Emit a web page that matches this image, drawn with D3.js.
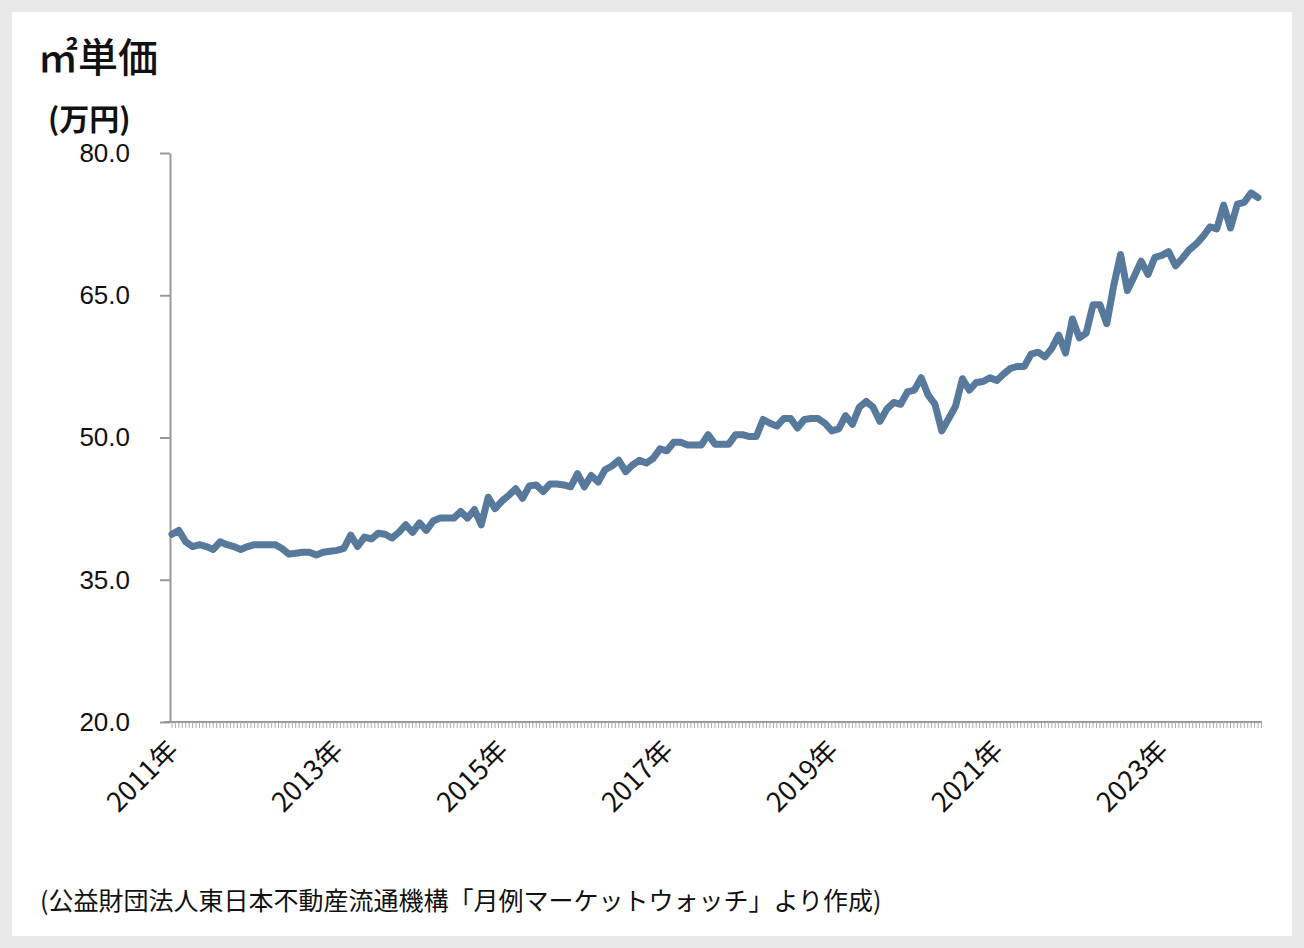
<!DOCTYPE html>
<html><head><meta charset="utf-8">
<script src="https://cdn.jsdelivr.net/npm/d3@7"></script>
<style>body{margin:0;background:#e9e9e9;}svg{display:block;font-family:"Noto Sans CJK JP","Noto Sans",sans-serif;}</style>
</head><body>
<script>
const values = [
39.8,40.2,39.0,38.5,38.7,38.5,38.2,39.0,38.7,38.5,38.2,38.5,
38.7,38.7,38.7,38.7,38.3,37.7,37.8,37.9,37.9,37.6,37.9,38.0,
38.1,38.3,39.7,38.5,39.5,39.3,39.9,39.8,39.4,40.0,40.8,40.0,
41.0,40.2,41.2,41.5,41.5,41.5,42.2,41.5,42.4,40.8,43.7,42.5,
43.3,43.9,44.6,43.6,44.9,45.0,44.3,45.1,45.1,45.0,44.8,46.2,
44.8,46.0,45.3,46.6,47.0,47.6,46.4,47.1,47.6,47.3,47.8,48.8,
48.6,49.5,49.5,49.2,49.2,49.2,50.3,49.3,49.3,49.3,50.3,50.3,
50.1,50.1,51.9,51.5,51.2,52.0,52.0,51.0,51.9,52.0,52.0,51.5,
50.7,50.9,52.3,51.4,53.2,53.8,53.2,51.7,53.0,53.7,
53.5,54.8,55.0,56.3,54.5,53.5,50.7,52.0,53.3,56.2,55.0,55.8,55.9,56.3,
56.0,56.7,57.3,57.5,57.5,58.8,59.0,58.5,59.4,60.8,58.9,62.5,
60.5,61.0,64.0,64.0,62.0,66.0,69.3,65.5,67.0,68.6,67.2,69.0,
69.2,69.6,68.1,68.9,69.8,70.4,71.2,72.2,72.0,74.5,72.1,74.6,
74.8,75.8,75.3];
const yTicks = [20,35,50,65,80];
const yearLabels = ["2011年","2013年","2015年","2017年","2019年","2021年","2023年"];
const title = "㎡単価", unit = "(万円)";
const source = "(公益財団法人東日本不動産流通機構「月例マーケットウォッチ」より作成)";

const W=1304,H=948;
const svg=d3.select("body").append("svg").attr("width",W).attr("height",H);
svg.append("rect").attr("x",12).attr("y",12).attr("width",1280).attr("height",924).attr("fill","#fff");
const x=d3.scaleLinear().domain([0,values.length-1]).range([172,1258]);
const y=d3.scaleLinear().domain([20,80]).range([722,153]);

svg.append("text").attr("x",38).attr("y",72).attr("font-size",40).attr("font-weight",500).attr("fill","#111").text(title);
svg.append("text").attr("x",48).attr("y",130).attr("font-size",30).attr("font-weight","bold").attr("fill","#111").text(unit);

const ya=svg.append("g").attr("transform","translate(170,0)").call(d3.axisLeft(y).tickValues(yTicks).tickFormat(d3.format(".1f")).tickSize(10).tickSizeOuter(0));
ya.select(".domain").attr("stroke","#999").attr("stroke-width",2);
ya.selectAll("line").attr("stroke","#999").attr("stroke-width",2);
ya.selectAll("text").attr("font-size",26).attr("fill","#111").attr("x",-40).attr("font-family","Liberation Sans, Arial, sans-serif");

const xa=svg.append("g");
xa.append("line").attr("x1",164).attr("x2",1262).attr("y1",722).attr("y2",722).attr("stroke","#999").attr("stroke-width",2);
const minor=d3.range(0,(values.length)*2);
xa.selectAll(".mt").data(minor).join("line").attr("x1",d=>x(d/2)).attr("x2",d=>x(d/2)).attr("y1",722).attr("y2",728).attr("stroke","#aaa").attr("stroke-width",1);
yearLabels.forEach((lab,i)=>{
  const xi=x(i*24)+8;
  svg.append("text").attr("transform",`translate(${xi},752) rotate(-45)`).attr("text-anchor","end").attr("font-size",27).attr("fill","#111").text(lab);
});

const line=d3.line().x((d,i)=>x(i)).y(d=>y(d));
svg.append("path").datum(values).attr("d",line).attr("fill","none").attr("stroke","#56799c").attr("stroke-width",7).attr("stroke-linejoin","round").attr("stroke-linecap","round");

svg.append("text").attr("x",40).attr("y",910).attr("font-size",25).attr("fill","#111").text(source);
</script>
</body></html>
